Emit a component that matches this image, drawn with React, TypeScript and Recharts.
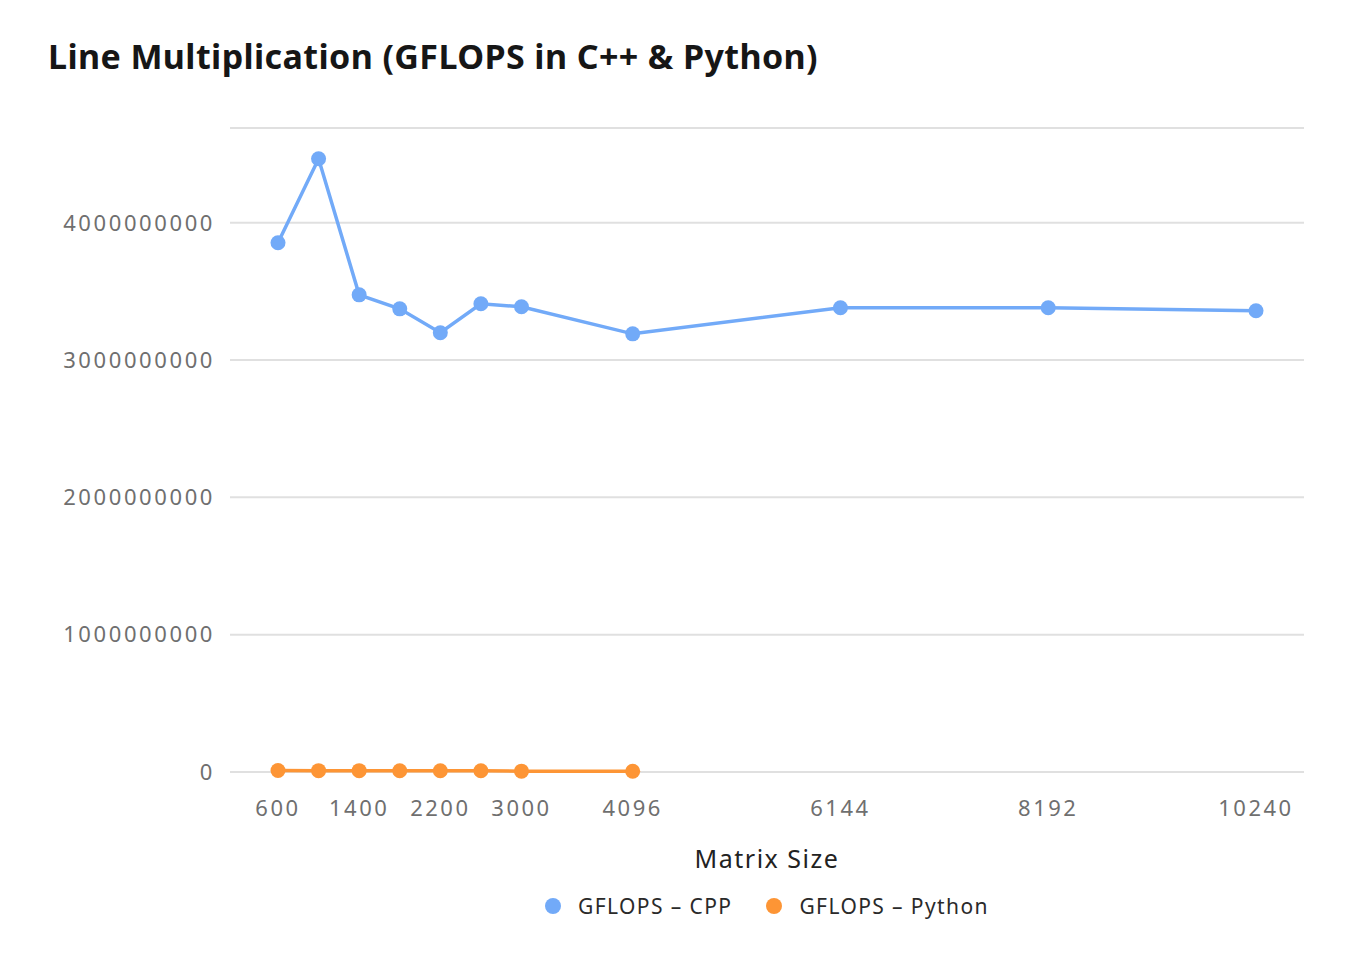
import React from 'react';
import { LineChart, Line, XAxis, YAxis, CartesianGrid, Legend } from 'recharts';

const matrixSizes = [600, 1000, 1400, 1800, 2200, 2600, 3000, 4096, 6144, 8192, 10240];
const flopsCpp = [3854000000, 4466000000, 3475000000, 3373000000, 3199000000, 3410000000, 3388000000, 3191000000, 3381000000, 3381000000, 3359000000];
const flopsPython = [11000000, 10000000, 10000000, 9000000, 9000000, 9000000, 6000000, 5000000, null, null, null];
const xTicks = [600, 1400, 2200, 3000, 4096, 6144, 8192, 10240];
const Y_MAX = 4690000000;
const yTicks = [0, 1000000000, 2000000000, 3000000000, 4000000000, Y_MAX];

const BLUE = '#72aaf8';
const ORANGE = '#fd9535';
const FONT = '"Noto Sans", sans-serif';

const data = matrixSizes.map((size, i) => ({
  size,
  cpp: flopsCpp[i],
  python: flopsPython[i],
}));

const legendItems = [
  { label: 'GFLOPS – CPP', color: BLUE },
  { label: 'GFLOPS – Python', color: ORANGE },
];

// legend centred over the plot area, not the whole chart
const renderLegend = () => (
  <div style={{ height: 40, paddingTop: 22, paddingLeft: 222, boxSizing: 'border-box', display: 'flex', justifyContent: 'center', gap: 34, fontFamily: FONT }}>
    {legendItems.map(item => (
      <div key={item.label} style={{ display: 'flex', alignItems: 'center', height: 24 }}>
        <span style={{ width: 16, height: 16, borderRadius: 8, background: item.color, marginRight: 17 }} />
        <span style={{ fontSize: 21, color: '#2a2a2a', letterSpacing: 1.4 }}>{item.label}</span>
      </div>
    ))}
  </div>
);

export default function App() {
  return (
    <div style={{ position: 'relative', width: 1340, height: 940 }}>
      <div style={{ position: 'absolute', left: 40, top: 28, fontFamily: FONT, fontWeight: 700, fontSize: 34, color: '#161616', lineHeight: '40px', letterSpacing: 0.4 }}>
        Line Multiplication (GFLOPS in C++ &amp; Python)
      </div>
      <LineChart width={1340} height={932} data={data} margin={{ top: 120, right: 44, bottom: 28, left: 0 }}>
        <CartesianGrid vertical={false} stroke="#e0e0e0" strokeWidth={2} />
        <XAxis
          dataKey="size"
          type="number"
          domain={[600, 10240]}
          ticks={xTicks}
          padding={{ left: 48, right: 48 }}
          axisLine={false}
          tickLine={false}
          tickSize={0}
          tickMargin={28}
          height={100}
          tick={{ fontSize: 22, fill: '#6f6f6f', fontFamily: FONT, letterSpacing: 2.5 }}
          label={{ value: 'Matrix Size', position: 'insideBottom', offset: 4, fontSize: 25, fill: '#222', fontFamily: FONT, letterSpacing: 1.5 }}
        />
        <YAxis
          type="number"
          domain={[0, Y_MAX]}
          ticks={yTicks}
          tickFormatter={(v: number) => (v === Y_MAX ? '' : String(v))}
          axisLine={false}
          tickLine={false}
          tickSize={0}
          tickMargin={15}
          width={222}
          tick={{ fontSize: 22, fill: '#6f6f6f', fontFamily: FONT, letterSpacing: 2.6 }}
        />
        <Legend verticalAlign="bottom" content={renderLegend} />
        <Line
          type="linear"
          dataKey="cpp"
          stroke={BLUE}
          strokeWidth={3.5}
          dot={{ r: 7.5, fill: BLUE, stroke: 'none' }}
          activeDot={false}
          isAnimationActive={false}
        />
        <Line
          type="linear"
          dataKey="python"
          stroke={ORANGE}
          strokeWidth={3.5}
          dot={{ r: 7.5, fill: ORANGE, stroke: 'none' }}
          activeDot={false}
          isAnimationActive={false}
        />
      </LineChart>
    </div>
  );
}
